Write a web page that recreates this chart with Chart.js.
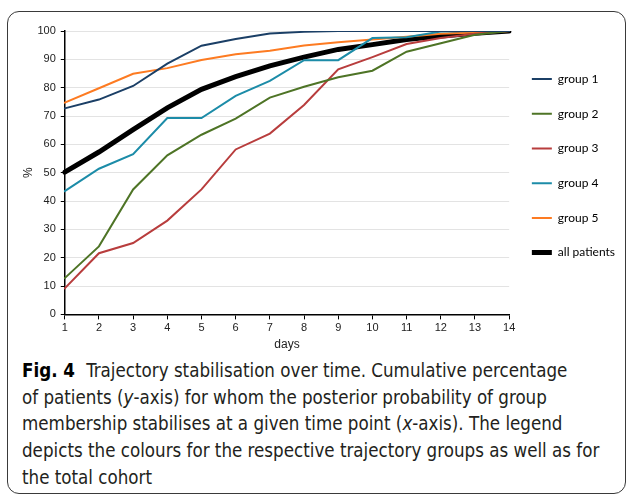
<!DOCTYPE html>
<html>
	<head>
		<meta charset="utf-8">
		<title>Fig. 4 - Trajectory stabilisation over time</title>
		<script src="https://cdn.jsdelivr.net/npm/chart.js"></script>
		<style>
			body { margin: 0; background: #fff; width: 627px; height: 495px; overflow: hidden; }
			.fig { position: absolute; left: 7px; top: 11px; width: 617px; height: 481px; border: 1px solid #3a3a3a; border-radius: 12px; }
			.plot { position: absolute; left: 0px; top: 0px; width: 617px; height: 340px; }
			.caption { position: absolute; left: 14px; top: 346px; width: 600px; font-family: "Liberation Sans Narrow", "DejaVu Sans Condensed", "Liberation Sans", sans-serif; font-size: 18.6px; line-height: 26.7px; color: #231f20; white-space: nowrap; }
			.caption b { color: #000; margin-right: 6px; }
		</style>
	</head>
	<body>
		<div class="fig">
			<div class="plot"><canvas id="chart"></canvas></div>
			<div class="caption">
				<b>Fig. 4</b> Trajectory stabilisation over time. Cumulative percentage<br>
				of patients (<i>y</i>-axis) for whom the posterior probability of group<br>
				membership stabilises at a given time point (<i>x</i>-axis). The legend<br>
				depicts the colours for the respective trajectory groups as well as for<br>
				the total cohort
			</div>
		</div>
		<script type="text/javascript">
			// values (cumulative %)
			let days = ['1', '2', '3', '4', '5', '6', '7', '8', '9', '10', '11', '12', '13', '14']
			let group1 = [72.7, 75.8, 80.6, 88.5, 94.8, 97.2, 99.1, 99.7, 100, 100, 100, 100, 100, 100]
			let group2 = [12.8, 24, 44.1, 56.1, 63.4, 69.1, 76.5, 80.3, 83.7, 86, 92.7, 95.7, 98.7, 100]
			let group3 = [9.2, 21.6, 25.2, 33.1, 44.1, 58.2, 63.8, 73.9, 86.5, 90.8, 95.4, 97.5, 99, 100]
			let group4 = [43.5, 51.4, 56.5, 69.3, 69.3, 77.1, 82.4, 89.7, 89.7, 97.5, 97.8, 99.8, 100, 100]
			let group5 = [74.7, 79.8, 84.9, 86.9, 89.8, 91.8, 93, 94.9, 96, 97, 98, 99, 99.5, 100]
			let allPatients = [50.2, 57.3, 65.2, 72.9, 79.4, 83.9, 87.7, 90.8, 93.5, 95.2, 97, 98.2, 99.2, 100]
			let yTicks = [0, 10, 20, 30, 40, 50, 60, 70, 80, 90, 100]

			let series = [
				{ label: 'group 1', data: group1, color: '#1b3f66', width: 2 },
				{ label: 'group 2', data: group2, color: '#4e7426', width: 2 },
				{ label: 'group 3', data: group3, color: '#b83d3d', width: 2 },
				{ label: 'group 4', data: group4, color: '#1c8ca8', width: 2 },
				{ label: 'group 5', data: group5, color: '#fd7b22', width: 2 },
				{ label: 'all patients', data: allPatients, color: '#000000', width: 5 }
			]

			let tickFont = { family: 'Liberation Sans', size: 11 }

			new Chart(document.getElementById('chart'), {
				type: 'line',
				data: {
					labels: days,
					datasets: series.map(s => ({
						label: s.label, data: s.data, borderColor: s.color, backgroundColor: s.color,
						borderWidth: s.width, pointRadius: 0, tension: 0, borderCapStyle: 'round'
					}))
				},
				options: {
					responsive: true,
					maintainAspectRatio: false,
					animation: false,
					layout: { padding: { top: 19, left: 13, right: 0, bottom: 0 } },
					plugins: {
						tooltip: { enabled: false },
						legend: {
							position: 'right',
							align: 'start',
							title: { display: true, text: '', padding: { top: 5, bottom: 0 }, font: { size: 12 } },
							labels: {
								usePointStyle: true, pointStyle: 'line', pointStyleWidth: 20, padding: 22.7,
								color: '#000', font: { family: 'Lato', size: 12 }
							}
						}
					},
					scales: {
						x: {
							type: 'category',
							offset: false,
							border: { color: '#000', width: 1.5 },
							grid: { drawOnChartArea: false, tickColor: '#000', tickLength: 5, offset: false },
							ticks: { color: '#222', font: tickFont, padding: 2, maxRotation: 0 },
							title: { display: true, text: 'days', color: '#222', font: { family: 'Liberation Sans', size: 12 }, padding: { top: 1, bottom: 0 } }
						},
						y: {
							min: 0, max: 100,
							afterBuildTicks: axis => { axis.ticks = yTicks.map(v => ({ value: v })) },
							border: { color: '#000', width: 1.5 },
							grid: { color: '#e3e3e3', lineWidth: 1, tickColor: '#000', tickLength: 4 },
							ticks: { color: '#222', font: tickFont, padding: 5 },
							title: { display: true, text: '%', color: '#222', font: { family: 'Liberation Sans', size: 12 }, padding: { top: 0, bottom: -3 } }
						}
					}
				}
			})
		</script>
	</body>
</html>
